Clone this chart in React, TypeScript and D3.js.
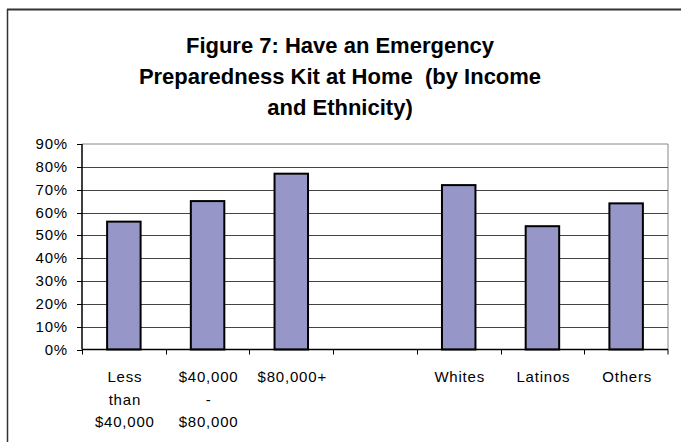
import React from "react";
import * as d3 from "d3";

const categories = ["Less than $40,000", "$40,000 - $80,000", "$80,000+", "", "Whites", "Latinos", "Others"];
const labelLines = [["Less", "than", "$40,000"], ["$40,000", "-", "$80,000"], ["$80,000+"], [], ["Whites"], ["Latinos"], ["Others"]];
const values: (number | null)[] = [0.56, 0.65, 0.77, null, 0.72, 0.54, 0.64];
const yTicks = [0, 0.1, 0.2, 0.3, 0.4, 0.5, 0.6, 0.7, 0.8, 0.9];
const titleLines = ["Figure 7: Have an Emergency", "Preparedness Kit at Home  (by Income", "and Ethnicity)"];

export default function App() {
  const W = 681, H = 442;
  const left = 82, right = 668, top = 144, bottom = 349.5;
  const keys = categories.map((c, i) => i + ":" + c);
  const x = d3.scaleBand<string>().domain(keys).range([left, right]).paddingInner(0).paddingOuter(0);
  const y = d3.scaleLinear().domain([0, 0.9]).range([bottom, top]);
  const bw = x.bandwidth();
  const barW = bw / 2.5;
  const font = "Arial, 'Liberation Sans', sans-serif";
  return (
    <svg width={W} height={H} style={{ position: "absolute", left: 0, top: 0, background: "#fff" }}>
      <rect x={0} y={0} width={W} height={H} fill="#fff" />
      <line x1={7} y1={9.5} x2={W + 5} y2={9.5} stroke="#333" strokeWidth={2} />
      <line x1={7.5} y1={9} x2={7.5} y2={H + 5} stroke="#333" strokeWidth={1.5} />
      {titleLines.map((t, i) => (
        <text key={i} x={340} y={53 + i * 31} textAnchor="middle" fontFamily={font} fontWeight="bold" fontSize={22} fill="#000" style={{ whiteSpace: "pre" }}>
          {t}
        </text>
      ))}
      <line x1={left} y1={top} x2={right} y2={top} stroke="#888" strokeWidth={1} />
      <line x1={right} y1={top} x2={right} y2={bottom} stroke="#888" strokeWidth={1} />
      {yTicks.map((t, i) => (
        <g key={i}>
          {t > 0 && t < 0.9 && <line x1={left} x2={right} y1={Math.round(y(t)) + 0.5} y2={Math.round(y(t)) + 0.5} stroke="#444" strokeWidth={1} />}
          <line x1={left - 5} x2={left} y1={Math.round(y(t)) + 0.5} y2={Math.round(y(t)) + 0.5} stroke="#000" strokeWidth={1} />
          <text x={68} y={y(t) + 5} textAnchor="end" fontFamily={font} fontSize={15} letterSpacing={0.8} fill="#000">
            {Math.round(t * 100) + "%"}
          </text>
        </g>
      ))}
      {values.map((v, i) =>
        v == null ? null : (
          <rect key={i} x={(x(keys[i]) as number) + bw / 2 - barW / 2} y={y(v)} width={barW} height={bottom - y(v)} fill="#9696c8" stroke="#000" strokeWidth={2} />
        )
      )}
      <line x1={left} x2={left} y1={top} y2={bottom} stroke="#000" strokeWidth={1.5} />
      <line x1={left} x2={right} y1={bottom} y2={bottom} stroke="#000" strokeWidth={1.5} />
      {keys.map((k, i) => (
        <line key={i} x1={Math.round(x(k) as number) + 0.5} x2={Math.round(x(k) as number) + 0.5} y1={bottom} y2={bottom + 5} stroke="#000" strokeWidth={1} />
      ))}
      <line x1={right} x2={right} y1={bottom} y2={bottom + 5} stroke="#000" strokeWidth={1} />
      {keys.map((k, i) =>
        labelLines[i].map((l, j) => (
          <text key={i + "-" + j} x={(x(k) as number) + bw / 2 + 1} y={382 + j * 22.5} textAnchor="middle" fontFamily={font} fontSize={15} letterSpacing={0.8} fill="#000">
            {l}
          </text>
        ))
      )}
    </svg>
  );
}
